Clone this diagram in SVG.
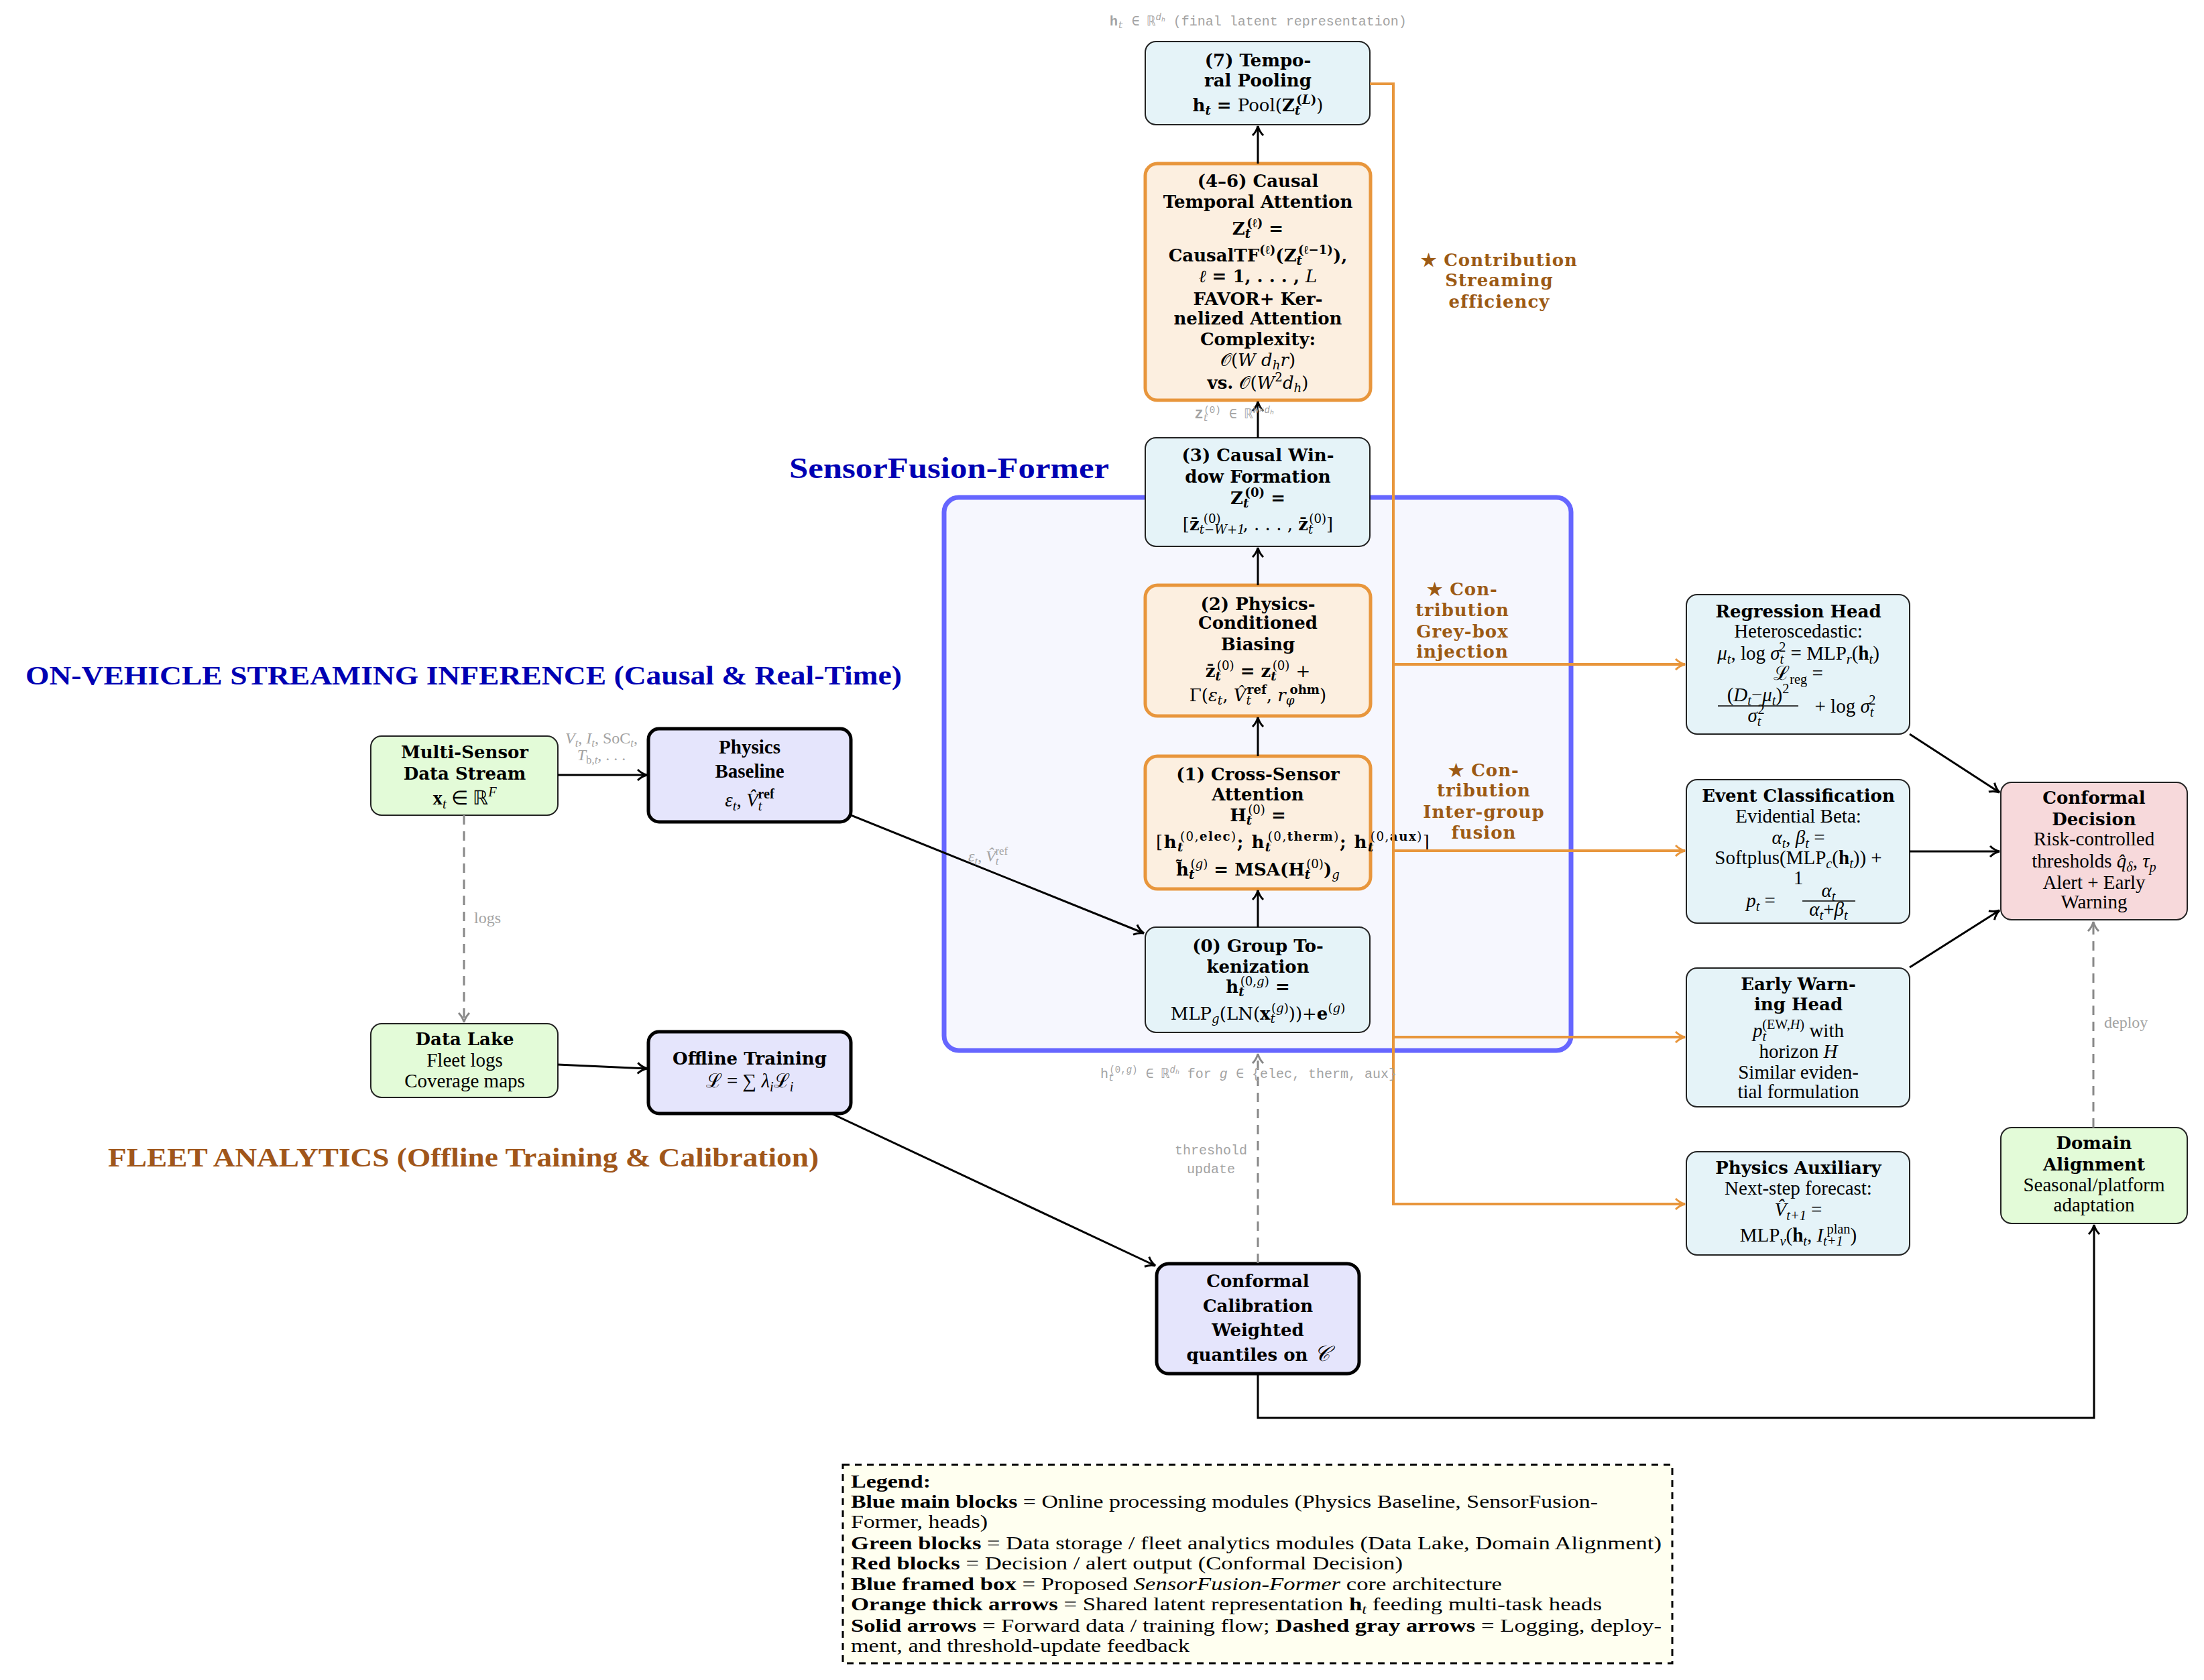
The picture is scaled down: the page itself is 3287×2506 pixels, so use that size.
<svg xmlns="http://www.w3.org/2000/svg" width="3287" height="2506" viewBox="0 0 3287 2506">
<style>
.sf{font-family:"DejaVu Serif",serif;font-size:26px;font-weight:bold;text-anchor:middle;fill:#000}
.r{font-family:"Liberation Serif",serif;font-size:29px;text-anchor:middle;fill:#000}
.i{font-style:italic}
.b{font-weight:bold}
.nw{font-weight:normal}
.sb{font-size:70%;baseline-shift:-0.28em}
.sp{font-size:70%;baseline-shift:0.6em}
.g{font-family:"Liberation Mono",monospace;font-size:20px;fill:#a3a3a3}
.gs{font-family:"Liberation Serif",serif;font-size:24px;fill:#a3a3a3}
.ctr{font-family:"DejaVu Serif",serif;font-size:26px;font-weight:bold;fill:#9c5a14;text-anchor:middle;letter-spacing:1px}
.ttl{font-family:"Liberation Serif",serif;font-weight:bold}
.lg{font-family:"Liberation Serif",serif;font-size:27px;fill:#000}
.bx{fill:#e5f3f8;stroke:#222;stroke-width:2}
.ob{fill:#fcefe0;stroke:#e8963c;stroke-width:5}
.gb{fill:#e3fbd8;stroke:#222;stroke-width:2}
.lb{fill:#e5e5fc;stroke:#000;stroke-width:5}
.pb{fill:#f7d9db;stroke:#222;stroke-width:2}
.k{fill:none;stroke:#000;stroke-width:3}
.o{fill:none;stroke:#e8963c;stroke-width:4}
.d{fill:none;stroke:#888;stroke-width:3;stroke-dasharray:14 10}
</style>
<defs>
<marker id="ak" markerUnits="userSpaceOnUse" markerWidth="22" markerHeight="22" refX="17" refY="10" orient="auto"><path d="M3,2 Q9,8 17,10 Q9,12 3,18" fill="none" stroke="#000" stroke-width="3"/></marker>
<marker id="ao" markerUnits="userSpaceOnUse" markerWidth="22" markerHeight="22" refX="17" refY="10" orient="auto"><path d="M3,2 Q9,8 17,10 Q9,12 3,18" fill="none" stroke="#e8963c" stroke-width="3"/></marker>
<marker id="ag" markerUnits="userSpaceOnUse" markerWidth="22" markerHeight="22" refX="17" refY="10" orient="auto"><path d="M3,2 Q9,8 17,10 Q9,12 3,18" fill="none" stroke="#888" stroke-width="3"/></marker>
</defs>
<rect width="3287" height="2506" fill="#fff"/>

<g id="titles">
<text class="ttl" x="1177" y="713" font-size="44" fill="#0000b3" textLength="477" lengthAdjust="spacingAndGlyphs">SensorFusion-Former</text>
<text class="ttl" x="38" y="1021" font-size="40" fill="#0000b3" textLength="1307" lengthAdjust="spacingAndGlyphs">ON-VEHICLE STREAMING INFERENCE (Causal &amp; Real-Time)</text>
<text class="ttl" x="161" y="1740" font-size="40" fill="#a0561a" textLength="1060" lengthAdjust="spacingAndGlyphs">FLEET ANALYTICS (Offline Training &amp; Calibration)</text>
</g>

<g id="frame">
<rect x="1408" y="742" width="935" height="825" rx="22" fill="#f6f7fe" stroke="#6666ff" stroke-width="7"/>
</g>

<g id="n7">
<rect class="bx" x="1708" y="62" width="335" height="124" rx="16"/>
<text class="sf" x="1876" y="99">(7) Tempo-</text>
<text class="sf" x="1876" y="129">ral Pooling</text>
<text class="sf" x="1876" y="166">h<tspan class="sb i">t</tspan> = <tspan class="nw">Pool(</tspan>Z<tspan class="sb i">t</tspan><tspan class="sp" dx="-6">(<tspan class="i">L</tspan>)</tspan><tspan class="nw">)</tspan></text>
</g>

<g id="n46">
<rect class="ob" x="1708" y="244" width="336" height="353" rx="18"/>
<text class="sf" x="1876" y="279">(4–6) Causal</text>
<text class="sf" x="1876" y="310">Temporal Attention</text>
<text class="sf" x="1876" y="350">Z<tspan class="sb i">t</tspan><tspan class="sp" dx="-6">(ℓ)</tspan>  =</text>
<text class="sf" x="1876" y="390">CausalTF<tspan class="sp">(ℓ)</tspan>(Z<tspan class="sb i">t</tspan><tspan class="sp" dx="-6">(ℓ−1)</tspan>),</text>
<text class="sf" x="1876" y="421"><tspan class="nw i">ℓ</tspan> = 1, . . . , <tspan class="nw i">L</tspan></text>
<text class="sf" x="1876" y="455" fill="#e8963c">FAVOR+ Ker-</text>
<text class="sf" x="1876" y="484" fill="#e8963c">nelized Attention</text>
<text class="sf" x="1876" y="515">Complexity:</text>
<text class="sf nw" x="1876" y="546"><tspan class="nw">𝒪(<tspan class="i">W d</tspan><tspan class="sb i">h</tspan><tspan class="i">r</tspan>)</tspan></text>
<text class="sf" x="1876" y="580">vs. <tspan class="nw">𝒪(<tspan class="i">W</tspan><tspan class="sp">2</tspan><tspan class="i">d</tspan><tspan class="sb i">h</tspan>)</tspan></text>
</g>

<g id="n3">
<rect class="bx" x="1708" y="653" width="335" height="162" rx="16"/>
<text class="sf" x="1876" y="688">(3) Causal Win-</text>
<text class="sf" x="1876" y="720">dow Formation</text>
<text class="sf" x="1876" y="752">Z<tspan class="sb i">t</tspan><tspan class="sp" dx="-6">(0)</tspan>  =</text>
<text class="sf" x="1876" y="791"><tspan class="nw">[</tspan>z̄<tspan class="sb i nw">t−W+1</tspan><tspan class="sp nw" dx="-62">(0)</tspan><tspan class="nw" dx="33">, . . . , </tspan>z̄<tspan class="sb i nw">t</tspan><tspan class="sp nw" dx="-6">(0)</tspan><tspan class="nw">]</tspan></text>
</g>

<g id="n2">
<rect class="ob" x="1708" y="873" width="336" height="195" rx="18"/>
<text class="sf" x="1876" y="910">(2) Physics-</text>
<text class="sf" x="1876" y="938">Conditioned</text>
<text class="sf" x="1876" y="970">Biasing</text>
<text class="sf" x="1876" y="1010">z̄<tspan class="sb i">t</tspan><tspan class="sp nw" dx="-6">(0)</tspan> = z<tspan class="sb i">t</tspan><tspan class="sp nw" dx="-6">(0)</tspan> <tspan class="nw">+</tspan></text>
<text class="sf nw" x="1876" y="1046"><tspan class="nw">Γ(<tspan class="i">ε</tspan><tspan class="sb i">t</tspan>, <tspan class="i">V̂</tspan><tspan class="sb i">t</tspan><tspan class="sp b" dx="-6">ref</tspan>, <tspan class="i">r</tspan><tspan class="sb i">φ</tspan><tspan class="sp b" dx="-7">ohm</tspan>)</tspan></text>
</g>

<g id="n1">
<rect class="ob" x="1708" y="1128" width="336" height="198" rx="18"/>
<text class="sf" x="1876" y="1164">(1) Cross-Sensor</text>
<text class="sf" x="1876" y="1194">Attention</text>
<text class="sf" x="1876" y="1225">H<tspan class="sb i">t</tspan><tspan class="sp nw" dx="-6">(0)</tspan>  =</text>
<text class="sf" x="1724" y="1265" style="text-anchor:start" textLength="408" lengthAdjust="spacing"><tspan class="nw">[</tspan>h<tspan class="sb i">t</tspan><tspan class="sp" dx="-6"><tspan class="nw">(0,</tspan>elec<tspan class="nw">)</tspan></tspan>; h<tspan class="sb i">t</tspan><tspan class="sp" dx="-6"><tspan class="nw">(0,</tspan>therm<tspan class="nw">)</tspan></tspan>; h<tspan class="sb i">t</tspan><tspan class="sp" dx="-6"><tspan class="nw">(0,</tspan>aux<tspan class="nw">)</tspan></tspan><tspan class="nw">]</tspan></text>
<text class="sf" x="1876" y="1306">h̃<tspan class="sb i">t</tspan><tspan class="sp nw" dx="-6">(<tspan class="i">g</tspan>)</tspan> = MSA(H<tspan class="sb i">t</tspan><tspan class="sp nw" dx="-6">(0)</tspan>)<tspan class="sb i nw">g</tspan></text>
</g>

<g id="n0">
<rect class="bx" x="1708" y="1383" width="335" height="157" rx="16"/>
<text class="sf" x="1876" y="1420">(0) Group To-</text>
<text class="sf" x="1876" y="1451">kenization</text>
<text class="sf" x="1876" y="1481">h<tspan class="sb i">t</tspan><tspan class="sp nw" dx="-6">(0,<tspan class="i">g</tspan>)</tspan>  =</text>
<text class="sf nw" x="1876" y="1521"><tspan class="nw">MLP<tspan class="sb i">g</tspan>(LN(<tspan class="b">x</tspan><tspan class="sb i">t</tspan><tspan class="sp" dx="-6">(<tspan class="i">g</tspan>)</tspan>))+<tspan class="b">e</tspan><tspan class="sp">(<tspan class="i">g</tspan>)</tspan></tspan></text>
</g>

<g id="ms">
<rect class="gb" x="553" y="1098" width="279" height="118" rx="16"/>
<text class="sf" x="693" y="1131">Multi-Sensor</text>
<text class="sf" x="693" y="1163">Data Stream</text>
<text class="r" x="693" y="1200"><tspan class="b">x</tspan><tspan class="sb i">t</tspan> ∈ ℝ<tspan class="sp i">F</tspan></text>
</g>

<g id="pbase">
<rect class="lb" x="967" y="1087" width="302" height="139" rx="16"/>
<text class="r b" x="1118" y="1124" font-size="35">Physics</text>
<text class="r b" x="1118" y="1160" font-size="35">Baseline</text>
<text class="r" x="1118" y="1203" font-size="33"><tspan class="i">ε</tspan><tspan class="sb i">t</tspan>, <tspan class="i">V̂</tspan><tspan class="sb i">t</tspan><tspan class="sp b" dx="-6">ref</tspan></text>
</g>

<g id="dl">
<rect class="gb" x="553" y="1527" width="279" height="110" rx="16"/>
<text class="sf" x="693" y="1559">Data Lake</text>
<text class="r" x="693" y="1591">Fleet logs</text>
<text class="r" x="693" y="1622">Coverage maps</text>
</g>

<g id="ot">
<rect class="lb" x="967" y="1539" width="302" height="122" rx="16"/>
<text class="sf" x="1118" y="1588" font-size="28">Offline Training</text>
<text class="r" x="1118" y="1622" font-size="34">ℒ = ∑ <tspan class="i">λ</tspan><tspan class="sb i">i</tspan>ℒ<tspan class="sb i">i</tspan></text>
</g>

<g id="cal">
<rect class="lb" x="1725" y="1885" width="302" height="164" rx="18"/>
<text class="sf" x="1876" y="1920" font-size="29">Conformal</text>
<text class="sf" x="1876" y="1957" font-size="29">Calibration</text>
<text class="sf" x="1876" y="1993" font-size="29">Weighted</text>
<text class="sf" x="1876" y="2030" font-size="29">quantiles on <tspan class="nw i" font-family="Liberation Serif" font-size="32">𝒞</tspan></text>
</g>

<g id="reg">
<rect class="bx" x="2515" y="887" width="333" height="208" rx="16"/>
<text class="sf" x="2682" y="921">Regression Head</text>
<text class="r" x="2682" y="951">Heteroscedastic:</text>
<text class="r" x="2682" y="984"><tspan class="i">μ</tspan><tspan class="sb i">t</tspan>, log <tspan class="i">σ</tspan><tspan class="sb i">t</tspan><tspan class="sp" dx="-7">2</tspan> = MLP<tspan class="sb i">r</tspan>(<tspan class="b">h</tspan><tspan class="sb i">t</tspan>)</text>
<text class="r" x="2682" y="1014">ℒ<tspan class="sb">reg</tspan>  =</text>
<text class="r" x="2622" y="1046" font-size="22">(<tspan class="i">D</tspan><tspan class="sb i">t</tspan>−<tspan class="i">μ</tspan><tspan class="sb i">t</tspan>)<tspan class="sp">2</tspan></text>
<line x1="2562" y1="1053" x2="2682" y2="1053" stroke="#000" stroke-width="1.5"/>
<text class="r" x="2619" y="1077" font-size="22"><tspan class="i">σ</tspan><tspan class="sb i">t</tspan><tspan class="sp" dx="-5">2</tspan></text>
<text class="r" x="2752" y="1063">+ log <tspan class="i">σ</tspan><tspan class="sb i">t</tspan><tspan class="sp" dx="-7">2</tspan></text>
</g>

<g id="evt">
<rect class="bx" x="2515" y="1163" width="333" height="214" rx="16"/>
<text class="sf" x="2682" y="1196">Event Classification</text>
<text class="r" x="2682" y="1227">Evidential Beta:</text>
<text class="r" x="2682" y="1259"><tspan class="i">α</tspan><tspan class="sb i">t</tspan>, <tspan class="i">β</tspan><tspan class="sb i">t</tspan>  =</text>
<text class="r" x="2682" y="1289">Softplus(MLP<tspan class="sb i">c</tspan>(<tspan class="b">h</tspan><tspan class="sb i">t</tspan>)) +</text>
<text class="r" x="2682" y="1319">1</text>
<text class="r" x="2626" y="1353"><tspan class="i">p</tspan><tspan class="sb i">t</tspan>  =</text>
<text class="r" x="2727" y="1338" font-size="22"><tspan class="i">α</tspan><tspan class="sb i">t</tspan></text>
<line x1="2688" y1="1344" x2="2767" y2="1344" stroke="#000" stroke-width="1.5"/>
<text class="r" x="2727" y="1366" font-size="22"><tspan class="i">α</tspan><tspan class="sb i">t</tspan>+<tspan class="i">β</tspan><tspan class="sb i">t</tspan></text>
</g>

<g id="cd">
<rect class="pb" x="2984" y="1167" width="278" height="205" rx="16"/>
<text class="sf" x="3123" y="1199">Conformal</text>
<text class="sf" x="3123" y="1231">Decision</text>
<text class="r" x="3123" y="1261">Risk-controlled</text>
<text class="r" x="3123" y="1294">thresholds <tspan class="i">q̂</tspan><tspan class="sb i">δ</tspan>, <tspan class="i">τ</tspan><tspan class="sb i">p</tspan></text>
<text class="r" x="3123" y="1326">Alert + Early</text>
<text class="r" x="3123" y="1355">Warning</text>
</g>

<g id="ew">
<rect class="bx" x="2515" y="1444" width="333" height="207" rx="16"/>
<text class="sf" x="2682" y="1477">Early Warn-</text>
<text class="sf" x="2682" y="1507">ing Head</text>
<text class="r" x="2682" y="1547"><tspan class="i">p</tspan><tspan class="sb i">t</tspan><tspan class="sp" dx="-6">(EW,<tspan class="i">H</tspan>)</tspan> with</text>
<text class="r" x="2682" y="1578">horizon <tspan class="i">H</tspan></text>
<text class="r" x="2682" y="1609">Similar eviden-</text>
<text class="r" x="2682" y="1638">tial formulation</text>
</g>

<g id="aux">
<rect class="bx" x="2515" y="1718" width="333" height="154" rx="16"/>
<text class="sf" x="2682" y="1751">Physics Auxiliary</text>
<text class="r" x="2682" y="1782">Next-step forecast:</text>
<text class="r" x="2682" y="1814"><tspan class="i">V̂</tspan><tspan class="sb i">t+1</tspan>  =</text>
<text class="r" x="2682" y="1852">MLP<tspan class="sb i">v</tspan>(<tspan class="b">h</tspan><tspan class="sb i">t</tspan>, <tspan class="i">I</tspan><tspan class="sb i">t+1</tspan><tspan class="sp" dx="-24">plan</tspan>)</text>
</g>

<g id="da">
<rect class="gb" x="2984" y="1682" width="278" height="143" rx="16"/>
<text class="sf" x="3123" y="1714">Domain</text>
<text class="sf" x="3123" y="1746">Alignment</text>
<text class="r" x="3123" y="1777">Seasonal/platform</text>
<text class="r" x="3123" y="1807">adaptation</text>
</g>

<g id="connectors">
<path class="k" d="M1876,244 V188" marker-end="url(#ak)"/>
<path class="k" d="M1876,653 V599" marker-end="url(#ak)"/>
<path class="k" d="M1876,873 V817" marker-end="url(#ak)"/>
<path class="k" d="M1876,1128 V1070" marker-end="url(#ak)"/>
<path class="k" d="M1876,1383 V1328" marker-end="url(#ak)"/>
<path class="k" d="M832,1156 H965" marker-end="url(#ak)"/>
<path class="k" d="M1269,1216 L1706,1392" marker-end="url(#ak)"/>
<path class="k" d="M832,1588 L965,1594" marker-end="url(#ak)"/>
<path class="k" d="M1240,1661 L1723,1888" marker-end="url(#ak)"/>
<path class="k" d="M2848,1095 L2982,1182" marker-end="url(#ak)"/>
<path class="k" d="M2848,1270 H2982" marker-end="url(#ak)"/>
<path class="k" d="M2848,1443 L2982,1358" marker-end="url(#ak)"/>
<path class="k" d="M1876,2049 V2115 H3123 V1827" marker-end="url(#ak)"/>
<path class="d" d="M692,1216 V1525" marker-end="url(#ag)"/>
<path class="d" d="M1876,1884 V1572" marker-end="url(#ag)"/>
<path class="d" d="M3122,1682 V1375" marker-end="url(#ag)"/>
<path class="o" d="M2043,125 H2078 V1796 H2513" marker-end="url(#ao)"/>
<path class="o" d="M2078,991 H2513" marker-end="url(#ao)"/>
<path class="o" d="M2078,1269 H2513" marker-end="url(#ao)"/>
<path class="o" d="M2078,1547 H2513" marker-end="url(#ao)"/>
</g>

<g id="labels">
<text class="g" x="1655" y="38"><tspan font-weight="bold">h</tspan><tspan class="sb i">t</tspan> ∈ ℝ<tspan class="sp i">d<tspan class="sb">h</tspan></tspan>  (final latent representation)</text>
<text class="g" x="1782" y="624"><tspan font-weight="bold">Z</tspan><tspan class="sb i">t</tspan><tspan class="sp" dx="-7">(0)</tspan> ∈ ℝ<tspan class="sp i">W×d<tspan class="sb">h</tspan></tspan></text>
<text class="g" x="1641" y="1608">h<tspan class="sb i">t</tspan><tspan class="sp" dx="-7">(0,<tspan class="i">g</tspan>)</tspan> ∈ ℝ<tspan class="sp i">d<tspan class="sb">h</tspan></tspan>  for <tspan class="i">g</tspan> ∈ {elec, therm, aux}</text>
<text class="g" x="1806" y="1722" text-anchor="middle">threshold</text>
<text class="g" x="1806" y="1750" text-anchor="middle">update</text>
<text class="gs" x="707" y="1377" font-size="21">logs</text>
<text class="gs" x="3138" y="1533">deploy</text>
<text class="gs" x="897" y="1109" text-anchor="middle"><tspan class="i">V</tspan><tspan class="sb i">t</tspan>, <tspan class="i">I</tspan><tspan class="sb i">t</tspan>, SoC<tspan class="sb i">t</tspan>,</text>
<text class="gs" x="897" y="1134" text-anchor="middle"><tspan class="i">T</tspan><tspan class="sb">b,<tspan class="i">t</tspan></tspan>, . . .</text>
<text class="gs" x="1444" y="1285"><tspan class="i">ε</tspan><tspan class="sb i">t</tspan>, <tspan class="i">V̂</tspan><tspan class="sb i">t</tspan><tspan class="sp" dx="-5">ref</tspan></text>
<text class="ctr" x="2236" y="397">★ Contribution</text>
<text class="ctr" x="2236" y="427">Streaming</text>
<text class="ctr" x="2236" y="459">efficiency</text>
<text class="ctr" x="2181" y="888">★ Con-</text>
<text class="ctr" x="2181" y="919">tribution</text>
<text class="ctr" x="2181" y="951">Grey-box</text>
<text class="ctr" x="2181" y="981">injection</text>
<text class="ctr" x="2213" y="1158">★ Con-</text>
<text class="ctr" x="2213" y="1188">tribution</text>
<text class="ctr" x="2213" y="1220">Inter-group</text>
<text class="ctr" x="2213" y="1251">fusion</text>
</g>

<g id="legend">
<rect x="1257" y="2185" width="1237" height="296" fill="#fffff0" stroke="#000" stroke-width="3" stroke-dasharray="10 8"/>
<text class="lg" x="1269" y="2219" textLength="119" lengthAdjust="spacingAndGlyphs"><tspan class="b">Legend:</tspan></text>
<text class="lg" x="1269" y="2249" textLength="1114" lengthAdjust="spacingAndGlyphs"><tspan class="b">Blue main blocks</tspan> = Online processing modules (Physics Baseline, SensorFusion-</text>
<text class="lg" x="1269" y="2279" textLength="204" lengthAdjust="spacingAndGlyphs">Former, heads)</text>
<text class="lg" x="1269" y="2311" textLength="1209" lengthAdjust="spacingAndGlyphs"><tspan class="b">Green blocks</tspan> = Data storage / fleet analytics modules (Data Lake, Domain Alignment)</text>
<text class="lg" x="1269" y="2341" textLength="823" lengthAdjust="spacingAndGlyphs"><tspan class="b">Red blocks</tspan> = Decision / alert output (Conformal Decision)</text>
<text class="lg" x="1269" y="2372" textLength="971" lengthAdjust="spacingAndGlyphs"><tspan class="b">Blue framed box</tspan> = Proposed <tspan class="i">SensorFusion-Former</tspan> core architecture</text>
<text class="lg" x="1269" y="2402" textLength="1120" lengthAdjust="spacingAndGlyphs"><tspan class="b">Orange thick arrows</tspan> = Shared latent representation <tspan class="b">h</tspan><tspan class="sb i">t</tspan> feeding multi-task heads</text>
<text class="lg" x="1269" y="2434" textLength="1209" lengthAdjust="spacingAndGlyphs"><tspan class="b">Solid arrows</tspan> = Forward data / training flow; <tspan class="b">Dashed gray arrows</tspan> = Logging, deploy-</text>
<text class="lg" x="1269" y="2464" textLength="505" lengthAdjust="spacingAndGlyphs">ment, and threshold-update feedback</text>
</g>
</svg>
